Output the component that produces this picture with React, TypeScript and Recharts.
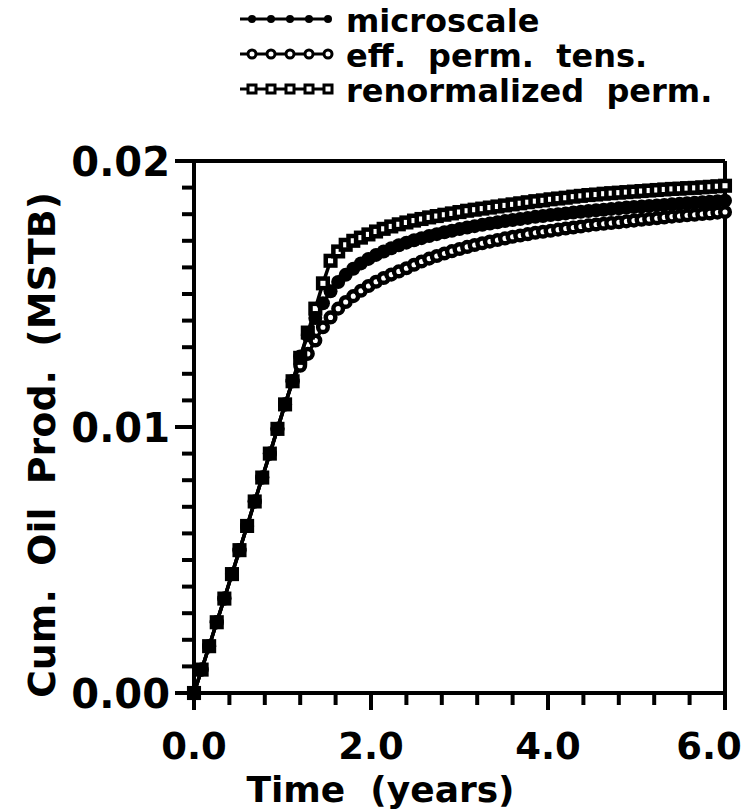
import React from 'react';
import { LineChart, Line, XAxis, YAxis, ReferenceLine, Label } from 'recharts';

const FONT = '"DejaVu Sans", Verdana, sans-serif';

const timeYears = [
  0, 0.086, 0.171, 0.257, 0.343, 0.429, 0.514, 0.6, 0.686, 0.771,
  0.857, 0.943, 1.029, 1.114, 1.2, 1.286, 1.371, 1.457, 1.543, 1.629,
  1.714, 1.8, 1.886, 1.971, 2.057, 2.143, 2.229, 2.314, 2.4, 2.486,
  2.571, 2.657, 2.743, 2.829, 2.914, 3.0, 3.086, 3.171, 3.257, 3.343,
  3.429, 3.514, 3.6, 3.686, 3.771, 3.857, 3.943, 4.029, 4.114, 4.2,
  4.286, 4.371, 4.457, 4.543, 4.629, 4.714, 4.8, 4.886, 4.971, 5.057,
  5.143, 5.229, 5.314, 5.4, 5.486, 5.571, 5.657, 5.743, 5.829, 5.914,
  6.0,
];

const microscale = [
  0, 0.00088, 0.00176, 0.00266, 0.00355, 0.00447, 0.00537, 0.00628, 0.0072, 0.0081,
  0.009, 0.00993, 0.01085, 0.01172, 0.01265, 0.01345, 0.0141, 0.01465, 0.0151, 0.01545,
  0.01572, 0.01595, 0.01615, 0.01632, 0.01647, 0.0166, 0.01672, 0.01683, 0.01693, 0.01702,
  0.0171, 0.01718, 0.01725, 0.01732, 0.01738, 0.01744, 0.0175, 0.01755, 0.0176, 0.01765,
  0.0177, 0.01774, 0.01778, 0.01782, 0.01786, 0.0179, 0.01793, 0.01797, 0.018, 0.01803,
  0.01806, 0.01809, 0.01812, 0.01815, 0.01817, 0.0182, 0.01822, 0.01825, 0.01827, 0.01829,
  0.01831, 0.01833, 0.01835, 0.01837, 0.01839, 0.01841, 0.01843, 0.01845, 0.01847, 0.01849,
  0.01851,
];

const effPermTens = [
  0, 0.00088, 0.00176, 0.00266, 0.00355, 0.00447, 0.00537, 0.00628, 0.0072, 0.0081,
  0.009, 0.00993, 0.01085, 0.01172, 0.0123, 0.01275, 0.01325, 0.01375, 0.01412, 0.01445,
  0.0147, 0.01492, 0.01512, 0.0153, 0.01546, 0.0156, 0.01573, 0.01585, 0.01597, 0.0161,
  0.01622, 0.01633, 0.01643, 0.01652, 0.01661, 0.01669, 0.01677, 0.01684, 0.01691, 0.01697,
  0.01703, 0.01709, 0.01715, 0.0172, 0.01725, 0.0173, 0.01734, 0.01738, 0.01742, 0.01746,
  0.0175, 0.01754, 0.01758, 0.01761, 0.01764, 0.01767, 0.0177, 0.01773, 0.01776, 0.01779,
  0.01782, 0.01785, 0.01788, 0.01791, 0.01793, 0.01796, 0.01798, 0.01801, 0.01803, 0.01806,
  0.01808,
];

const renormalizedPerm = [
  0, 0.00088, 0.00176, 0.00266, 0.00355, 0.00447, 0.00537, 0.00628, 0.0072, 0.0081,
  0.009, 0.00993, 0.01085, 0.01172, 0.0126, 0.01355, 0.01445, 0.0154, 0.01625, 0.0166,
  0.01685, 0.017, 0.01712, 0.01724, 0.01735, 0.01745, 0.01754, 0.01762, 0.01769, 0.01776,
  0.01782, 0.01788, 0.01793, 0.01798, 0.01803, 0.01808, 0.01813, 0.01817, 0.01821, 0.01825,
  0.01829, 0.01833, 0.01837, 0.01841, 0.01845, 0.01849, 0.01852, 0.01856, 0.01859, 0.01862,
  0.01866, 0.01869, 0.01872, 0.01874, 0.01877, 0.01879, 0.01881, 0.01883, 0.01885, 0.01887,
  0.01889, 0.01891, 0.01893, 0.01895, 0.01896, 0.01898, 0.01899, 0.01901, 0.01903, 0.01905,
  0.01907,
];

const xTicks = [0, 0.4, 0.8, 1.2, 1.6, 2.0, 2.4, 2.8, 3.2, 3.6, 4.0, 4.4, 4.8, 5.2, 5.6, 6.0];
const xLabelTicks = [0, 2, 4, 6];
const yTicks = [
  0, 0.001, 0.002, 0.003, 0.004, 0.005, 0.006, 0.007, 0.008, 0.009, 0.01,
  0.011, 0.012, 0.013, 0.014, 0.015, 0.016, 0.017, 0.018, 0.019, 0.02,
];
const yLabelTicks = [0, 0.01, 0.02];

const seriesNames = ['microscale', 'eff.  perm.  tens.', 'renormalized  perm.'];

const data = timeYears.map((t, i) => ({
  t,
  micro: microscale[i],
  eff: effPermTens[i],
  renorm: renormalizedPerm[i],
}));

const isIn = (list: number[], v: number) => list.some((m) => Math.abs(m - v) < 1e-9);

const XTick = (props: any) => {
  const { x, y, payload } = props;
  const v = payload.value;
  const major = isIn(xLabelTicks, v);
  const last = v === xLabelTicks[xLabelTicks.length - 1];
  return (
    <g>
      <line x1={x} x2={x} y1={y} y2={y + (major ? 17 : 12)} stroke="#000" strokeWidth={4} />
      {major && (
        <text x={last ? x - 16 : x} y={y + 66} textAnchor="middle" fontFamily={FONT} fontWeight="bold" fontSize={37} fill="#000">
          {v.toFixed(1)}
        </text>
      )}
    </g>
  );
};

const YTick = (props: any) => {
  const { x, y, payload } = props;
  const v = payload.value;
  const major = isIn(yLabelTicks, v);
  return (
    <g>
      <line x1={x} x2={x - (major ? 19 : 12)} y1={y} y2={y} stroke="#000" strokeWidth={4} />
      {major && (
        <text x={x - 24} y={y + 15} textAnchor="end" fontFamily={FONT} fontWeight="bold" fontSize={40} fill="#000">
          {v.toFixed(2)}
        </text>
      )}
    </g>
  );
};

const DotFilled = (props: any) => {
  const { cx, cy } = props;
  if (cx == null || cy == null) return null;
  return <circle cx={cx} cy={cy} r={7} fill="#000" />;
};
const DotCircle = (props: any) => {
  const { cx, cy } = props;
  if (cx == null || cy == null) return null;
  return <circle cx={cx} cy={cy} r={4.8} fill="#fff" stroke="#000" strokeWidth={4.5} />;
};
const DotSquare = (props: any) => {
  const { cx, cy } = props;
  if (cx == null || cy == null) return null;
  return <rect x={cx - 4.8} y={cy - 4.8} width={9.6} height={9.6} fill="#fff" stroke="#000" strokeWidth={4.5} />;
};

const XTitle = (props: any) => {
  const vb = props.viewBox || { x: 194, y: 693, width: 531, height: 117 };
  return (
    <text x={vb.x + vb.width / 2 - 79} y={vb.y + 109} textAnchor="middle" fontFamily={FONT} fontWeight="bold" fontSize={36} fill="#000" style={{ whiteSpace: 'pre' }}>
      Time  (years)
    </text>
  );
};

const YTitle = (props: any) => {
  const vb = props.viewBox || { x: 74, y: 161, width: 120, height: 532 };
  const cx = vb.x - 32;
  const cy = vb.y + vb.height / 2 + 18;
  return (
    <text x={cx} y={cy} transform={`rotate(-90 ${cx} ${cy})`} textAnchor="middle" dominantBaseline="central" fontFamily={FONT} fontWeight="bold" fontSize={38} fill="#000" wordSpacing={10}>
      Cum. Oil Prod. (MSTB)
    </text>
  );
};

const LegendSample = ({ y, kind }: { y: number; kind: number }) => {
  const xs = [252, 271, 290, 309, 328];
  return (
    <g>
      <line x1={240} x2={330} y1={y} y2={y} stroke="#000" strokeWidth={3} />
      {xs.map((x) =>
        kind === 0 ? (
          <circle key={x} cx={x} cy={y} r={4} fill="#000" />
        ) : kind === 1 ? (
          <circle key={x} cx={x} cy={y} r={4} fill="#fff" stroke="#000" strokeWidth={3} />
        ) : (
          <rect key={x} x={x - 4} y={y - 4} width={8} height={8} fill="#fff" stroke="#000" strokeWidth={3} />
        )
      )}
    </g>
  );
};

export default function App() {
  const rows = [19, 54, 89];
  return (
    <div style={{ position: 'absolute', left: 0, top: 0, width: 745, height: 810, background: '#fff' }}>
      <svg width={745} height={120} style={{ position: 'absolute', left: 0, top: 0 }}>
        {seriesNames.map((name, i) => (
          <g key={name}>
            <LegendSample y={rows[i]} kind={i} />
            <text x={346} y={rows[i] + 13} fontFamily={FONT} fontWeight="bold" fontSize={32} fill="#000" style={{ whiteSpace: 'pre' }}>
              {name}
            </text>
          </g>
        ))}
      </svg>
      <div style={{ position: 'absolute', left: 0, top: 0 }}>
        <LineChart width={745} height={810} data={data} margin={{ top: 161, right: 20, bottom: 0, left: 74 }}>
          <XAxis
            dataKey="t"
            type="number"
            domain={[0, 6]}
            ticks={xTicks}
            interval={0}
            tick={<XTick />}
            tickLine={false}
            tickSize={0}
            tickMargin={0}
            height={117}
            axisLine={{ stroke: '#000', strokeWidth: 4 }}
          >
            <Label content={<XTitle />} />
          </XAxis>
          <YAxis
            type="number"
            domain={[0, 0.02]}
            ticks={yTicks}
            interval={0}
            tick={<YTick />}
            tickLine={false}
            tickSize={0}
            tickMargin={0}
            width={120}
            axisLine={{ stroke: '#000', strokeWidth: 4 }}
          >
            <Label content={<YTitle />} />
          </YAxis>
          <ReferenceLine y={0.02} stroke="#000" strokeWidth={4} />
          <ReferenceLine x={6} stroke="#000" strokeWidth={4} />
          <Line dataKey="eff" stroke="#000" strokeWidth={3.5} dot={<DotCircle />} isAnimationActive={false} activeDot={false} />
          <Line dataKey="renorm" stroke="#000" strokeWidth={3.5} dot={<DotSquare />} isAnimationActive={false} activeDot={false} />
          <Line dataKey="micro" stroke="#000" strokeWidth={3.5} dot={<DotFilled />} isAnimationActive={false} activeDot={false} />
        </LineChart>
      </div>
    </div>
  );
}
